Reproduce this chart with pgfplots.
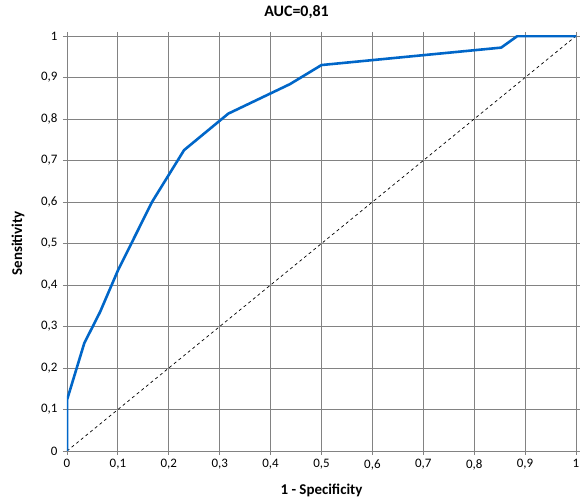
\documentclass[border=0pt]{standalone}
\usepackage{pgfplots}
\pgfplotsset{compat=1.18}
\usepackage{fontspec}
\setmainfont{Carlito}
\definecolor{roc}{RGB}{0,102,200}
\definecolor{gridc}{RGB}{130,130,130}
\begin{document}
\begin{tikzpicture}
\path[use as bounding box] (-67bp,-50bp) rectangle (513bp,451bp);
\begin{axis}[
  scale only axis,
  width=509bp, height=415bp,
  xmin=0, xmax=1, ymin=0, ymax=1,
  xtick={0,0.1,...,1.01}, ytick={0,0.1,...,1.01},
  /pgf/number format/.cd, use comma, fixed, precision=1, assume math mode=true,
  /pgfplots/.cd,
  grid=major,
  major grid style={gridc, line width=0.9pt},
  axis line style={gridc, line width=0.9pt},
  tick style={gridc, line width=0.9pt},
  tick align=outside,
  major tick length=4bp,
  ticklabel style={font=\fontsize{13}{15}\selectfont, black},
  xticklabel style={yshift=-1bp},
  yticklabel style={xshift=-2bp},
  title={\textbf{AUC=0,81}},
  title style={font=\fontsize{16}{18}\selectfont, at={(axis description cs:0.451,1.047)}, anchor=base, yshift=-5.5bp},
  xlabel={\textbf{1 - Specificity}},
  ylabel={\textbf{Sensitivity}},
  label style={font=\fontsize{15}{17}\selectfont},
  xlabel style={at={(axis description cs:0.5,-0.094)}, anchor=center},
  ylabel style={at={(axis description cs:-0.0963,0.5)}, anchor=center},
]
\addplot[black, line width=0.7pt, dash pattern=on 3bp off 3bp] coordinates {(0,0) (1,1)};
\addplot[roc, line width=2.6pt, line join=round] coordinates {
(0,0) (0,0.123) (0.034,0.26) (0.065,0.335) (0.1,0.435) (0.167,0.6)
(0.23,0.725) (0.317,0.813) (0.438,0.884) (0.5,0.93) (0.853,0.972)
(0.885,1) (1,1)};
\end{axis}
\end{tikzpicture}
\end{document}
